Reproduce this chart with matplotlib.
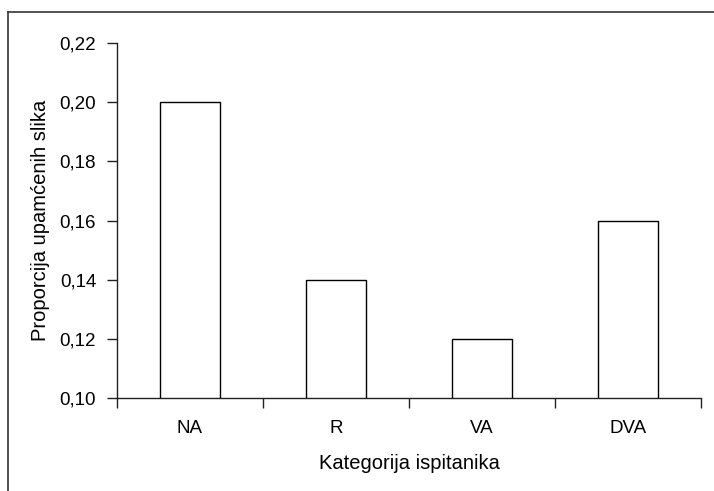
import matplotlib
matplotlib.use("Agg")
import matplotlib.pyplot as plt
from matplotlib.lines import Line2D
from matplotlib.ticker import FuncFormatter

categories = ["NA", "R", "VA", "DVA"]
values = [0.20, 0.14, 0.12, 0.16]
y_ticks = [0.10, 0.12, 0.14, 0.16, 0.18, 0.20, 0.22]

plt.rcParams['font.family'] = ['Liberation Sans', 'DejaVu Sans']
plt.rcParams['font.size'] = 13.5

fig = plt.figure(figsize=(7.14, 4.91), dpi=100)
ax = fig.add_axes([117/714, 1-398/491, (701-117)/714, (398-43)/491])

x = list(range(len(categories)))
ax.bar(x, [v - 0.10 for v in values], bottom=0.10, width=0.41,
       facecolor='white', edgecolor='black', linewidth=1.0, zorder=3)

ax.set_xlim(-0.5, len(categories) - 0.5)
ax.set_ylim(0.10, 0.22)
ax.set_yticks(y_ticks)
ax.yaxis.set_major_formatter(FuncFormatter(lambda v, p: f"{v:.2f}".replace('.', ',')))

ax.set_xticks(x)
ax.set_xticklabels(categories)
ax.set_xticks([i - 0.5 for i in range(len(categories) + 1)], minor=True)
ax.tick_params(axis='x', which='major', length=0, pad=16)
ax.tick_params(axis='x', which='minor', length=7, width=1, direction='out', color='#222222')
ax.tick_params(axis='y', length=7, width=1, direction='out', pad=8, color='#222222')

for s in ['top', 'right']:
    ax.spines[s].set_visible(False)
for s in ['left', 'bottom']:
    ax.spines[s].set_color('#222222')
    ax.spines[s].set_linewidth(1.0)

ax.set_xlabel("Kategorija ispitanika", labelpad=12, fontsize=14.5)
ax.set_ylabel("Proporcija upamćenih slika", labelpad=7, fontsize=14.5)

# outer frame (top and left visible)
fig.add_artist(Line2D([8/714, 1.0], [1-12/491, 1-12/491], transform=fig.transFigure,
                      color='#333333', linewidth=1.2))
fig.add_artist(Line2D([8/714, 8/714], [0.0, 1-12/491], transform=fig.transFigure,
                      color='#333333', linewidth=1.2))

fig.savefig("out.png", dpi=100)
